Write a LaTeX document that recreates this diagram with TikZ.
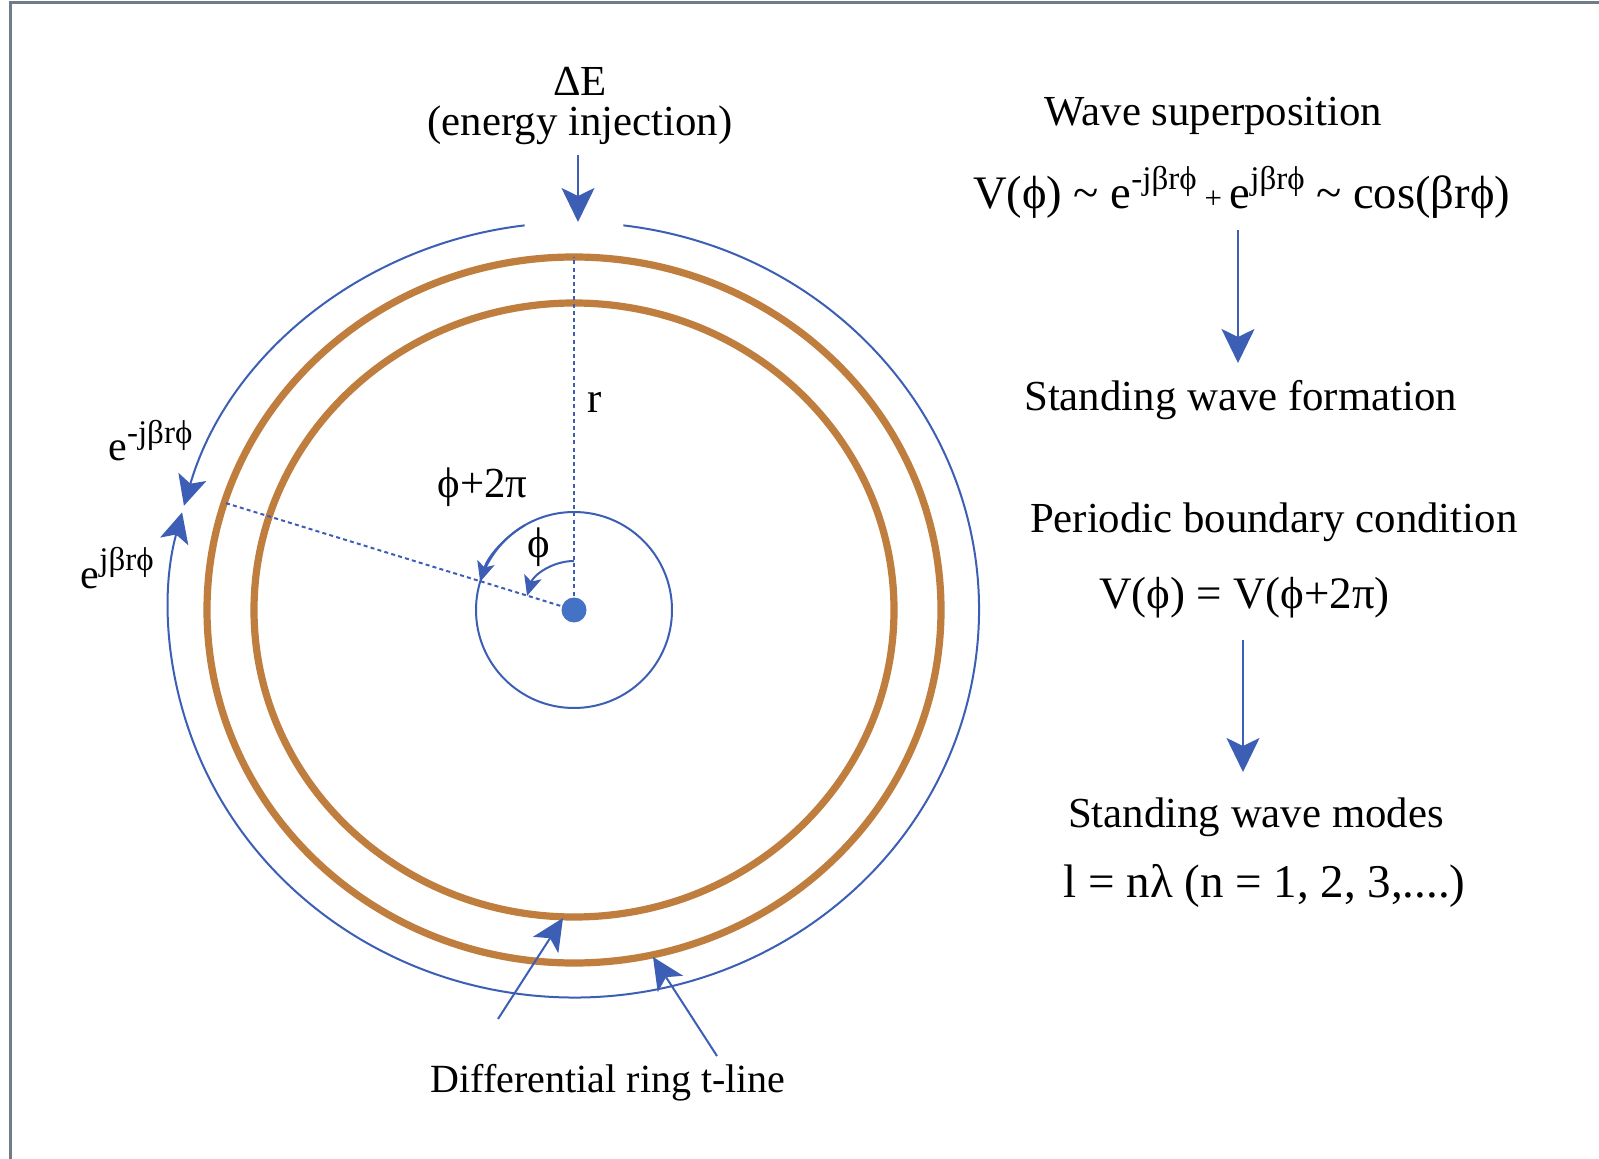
\documentclass[tikz,border=0pt]{standalone}
\usepackage{fontspec}
\setmainfont{Liberation Serif}
\usetikzlibrary{arrows.meta}
\definecolor{bl}{RGB}{60,94,180}
\definecolor{dotc}{RGB}{68,114,196}
\definecolor{brn}{RGB}{191,125,62}
\definecolor{framec}{RGB}{112,124,136}
\newcommand\ph{ϕ}
\newcommand\sups[1]{\raisebox{0.42em}{\fontsize{16.5}{16.5}\selectfont #1}}
\begin{document}
\begin{tikzpicture}[x=0.5pt,y=-0.5pt,
  txt/.style={font=\fontsize{21.4}{19.8}\selectfont, inner sep=0pt, anchor=base, align=center},
  bline/.style={draw=bl, line width=1pt},
  ring/.style={draw=brn, line width=3.6pt},
  dashl/.style={draw=bl, line width=1pt, dash pattern=on 2pt off 1.6pt},
  bigarr/.style={-{Stealth[length=17pt,width=16.5pt,inset=4pt]}},
  midarr/.style={-{Stealth[length=15pt,width=14.5pt,inset=3.5pt]}},
  smallarr/.style={-{Stealth[length=10pt,width=9pt,inset=2.5pt]}},
  botarr/.style={-{Stealth[length=16pt,width=15pt,inset=4pt]}}]
\useasboundingbox (0,0) rectangle (1599,1159);
\fill[white] (0,0) rectangle (1599,1159);
% frame
\draw[framec, line width=1.5pt] (10.5,1170) -- (10.5,2.5) -- (1610,2.5);

\coordinate (C) at (574,610);

% rings
\draw[ring] (C) ellipse[x radius=320, y radius=307];
\draw[ring] (C) ellipse[x radius=367, y radius=353];

% outer blue travelling-wave arcs
\draw[bline, midarr] (C) ++(-97:405 and 387.5) arc[start angle=-97, end angle=-164.4, x radius=405, y radius=387.5];
\draw[bline, midarr] (C) ++(-83:405 and 387.5) arc[start angle=-83, end angle=194.6, x radius=405, y radius=387.5];

% small circle
\draw[bline] (C) circle[radius=98];
\draw[bline, smallarr] (C) ++(-120:98) arc[start angle=-120, end angle=-163.25, radius=98];

% dashed radii
\path (C) ++(0,-353) coordinate (Top);
\path (C) ++(-162.3:367 and 353) coordinate (Lft);
\draw[dashl] (C) -- (Top);
\draw[dashl] (C) -- (Lft);

% phi arc
\draw[bline, smallarr] (C) ++(-90:49) arc[start angle=-90, end angle=-163.25, radius=49];

% centre dot
\fill[dotc] (C) circle[radius=12.5];

% labels on the ring
\node[txt] (r) at (594.5,413) {r};
\node[txt] (p2) at (482.4,497.7) {\ph+2π};
\node[txt] (p1) at (538.4,558) {\ph};
\node[txt, font=\fontsize{21}{21}\selectfont] (em) at (150.4,461) {e\sups{-jβr\ph}};
\node[txt, font=\fontsize{21}{21}\selectfont] (ep) at (117.3,588.4) {e\sups{jβr\ph}};

% energy injection
\node[txt] (dE) at (580,135.6) {ΔE\\(energy injection)};
\coordinate (dEs) at (578,155);
\coordinate (dEt) at (578,222);
\draw[bline, bigarr] (dEs) -- (dEt);

% bottom label
\node[txt, font=\fontsize{20}{20}\selectfont] (dl) at (608.3,1092) {Differential ring t-line};
\coordinate (a1s) at (498,1019);
\coordinate (a1t) at (563,918);
\coordinate (a2s) at (717,1056);
\coordinate (a2t) at (653,957);
\draw[bline, botarr] (a1s) -- (a1t);
\draw[bline, botarr] (a2s) -- (a2t);

% right column
\node[txt] (ws) at (1213.5,125.5) {Wave superposition};
\node[txt, font=\fontsize{23.3}{23}\selectfont] (f1) at (1241.6,209) {V(\ph) \textasciitilde{} e\sups{-jβr\ph}\,{\fontsize{15.5}{15}\selectfont +}\,e\sups{jβr\ph} \textasciitilde{} cos(βr\ph)};
\node[txt] (swf) at (1240.6,411) {Standing wave formation};
\draw[bline, bigarr] (1238,230) -- (1238,363);
\node[txt] (pbc) at (1273.7,533) {Periodic boundary condition};
\node[txt, font=\fontsize{22.5}{22}\selectfont] (f2) at (1244.6,609) {V(\ph) = V(\ph+2π)};
\draw[bline, bigarr] (1243,640) -- (1243,772);
\node[txt] (swm) at (1255.9,827) {Standing wave modes};
\node[txt, font=\fontsize{23.5}{23}\selectfont] (f3) at (1264.5,897.4) {l = nλ (n = 1, 2, 3,....)};
\end{tikzpicture}
\end{document}
